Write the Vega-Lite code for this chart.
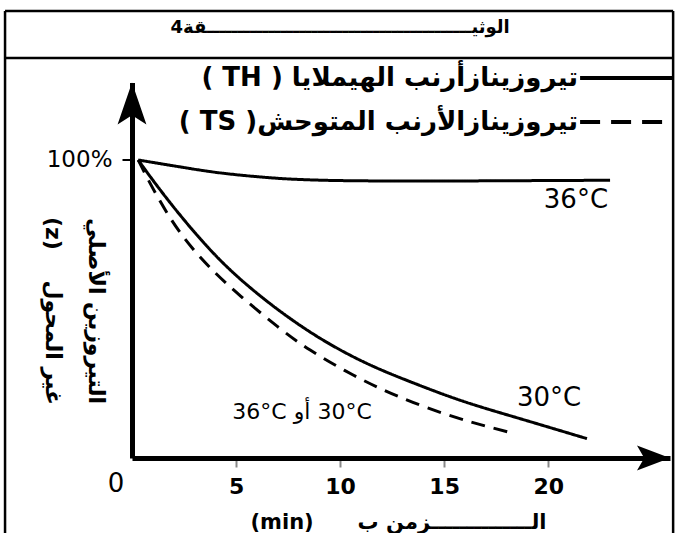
{
  "$schema": "https://vega.github.io/schema/vega-lite/v6.json",
  "autosize": {"type": "none"},
  "width": 538,
  "height": 375.5,
  "padding": {"left": 132, "top": 82.5, "right": 5, "bottom": 75},
  "background": "white",
  "config": {"view": {"stroke": null}, "font": "DejaVu Sans"},
  "datasets": {
    "curves": [
      {"x": 0.3, "y": 100, "curve": "TH36", "enzyme": "TH"},
      {"x": 1.5, "y": 98.6, "curve": "TH36", "enzyme": "TH"},
      {"x": 2.64, "y": 97.3, "curve": "TH36", "enzyme": "TH"},
      {"x": 3.8, "y": 96.0, "curve": "TH36", "enzyme": "TH"},
      {"x": 5.05, "y": 95.0, "curve": "TH36", "enzyme": "TH"},
      {"x": 6.3, "y": 94.2, "curve": "TH36", "enzyme": "TH"},
      {"x": 7.45, "y": 93.6, "curve": "TH36", "enzyme": "TH"},
      {"x": 9.0, "y": 93.2, "curve": "TH36", "enzyme": "TH"},
      {"x": 10.62, "y": 93.0, "curve": "TH36", "enzyme": "TH"},
      {"x": 13.84, "y": 92.9, "curve": "TH36", "enzyme": "TH"},
      {"x": 17.0, "y": 93.0, "curve": "TH36", "enzyme": "TH"},
      {"x": 20.0, "y": 93.1, "curve": "TH36", "enzyme": "TH"},
      {"x": 22.97, "y": 93.2, "curve": "TH36", "enzyme": "TH"},
      {"x": 0.3, "y": 100, "curve": "TH30", "enzyme": "TH"},
      {"x": 1.2, "y": 91.2, "curve": "TH30", "enzyme": "TH"},
      {"x": 2.64, "y": 78.5, "curve": "TH30", "enzyme": "TH"},
      {"x": 4.23, "y": 66.0, "curve": "TH30", "enzyme": "TH"},
      {"x": 5.81, "y": 56.2, "curve": "TH30", "enzyme": "TH"},
      {"x": 7.4, "y": 47.6, "curve": "TH30", "enzyme": "TH"},
      {"x": 9.03, "y": 40.0, "curve": "TH30", "enzyme": "TH"},
      {"x": 10.5, "y": 34.3, "curve": "TH30", "enzyme": "TH"},
      {"x": 11.92, "y": 29.6, "curve": "TH30", "enzyme": "TH"},
      {"x": 13.4, "y": 25.5, "curve": "TH30", "enzyme": "TH"},
      {"x": 15.14, "y": 20.8, "curve": "TH30", "enzyme": "TH"},
      {"x": 16.7, "y": 17.2, "curve": "TH30", "enzyme": "TH"},
      {"x": 18.31, "y": 13.9, "curve": "TH30", "enzyme": "TH"},
      {"x": 19.9, "y": 10.6, "curve": "TH30", "enzyme": "TH"},
      {"x": 21.86, "y": 6.5, "curve": "TH30", "enzyme": "TH"},
      {"x": 0.3, "y": 100, "curve": "TS", "enzyme": "TS"},
      {"x": 0.72, "y": 94.0, "curve": "TS", "enzyme": "TS"},
      {"x": 1.83, "y": 80.0, "curve": "TS", "enzyme": "TS"},
      {"x": 2.93, "y": 69.8, "curve": "TS", "enzyme": "TS"},
      {"x": 4.0, "y": 62.0, "curve": "TS", "enzyme": "TS"},
      {"x": 5.05, "y": 55.2, "curve": "TS", "enzyme": "TS"},
      {"x": 7.11, "y": 43.3, "curve": "TS", "enzyme": "TS"},
      {"x": 8.41, "y": 36.6, "curve": "TS", "enzyme": "TS"},
      {"x": 10.62, "y": 27.6, "curve": "TS", "enzyme": "TS"},
      {"x": 12.73, "y": 20.6, "curve": "TS", "enzyme": "TS"},
      {"x": 15.14, "y": 14.3, "curve": "TS", "enzyme": "TS"},
      {"x": 17.2, "y": 10.3, "curve": "TS", "enzyme": "TS"},
      {"x": 18.26, "y": 8.4, "curve": "TS", "enzyme": "TS"}
    ],
    "frame": [
      {"x": -6.1, "x2": 26.0, "y": 150, "y2": 150},
      {"x": -6.1, "x2": 26.0, "y": 134.2, "y2": 134.2},
      {"x": -6.1, "x2": -6.1, "y": 150, "y2": -28},
      {"x": 26.0, "x2": 26.0, "y": 150, "y2": -28}
    ],
    "legendlines": [
      {"x": 21.53, "x2": 26.0, "y": 127.5, "y2": 127.5, "enzyme": "TH"},
      {"x": 21.53, "x2": 26.0, "y": 112.75, "y2": 112.75, "enzyme": "TS"}
    ],
    "arrows": [
      {"x": 0, "y": 126, "dir": "up"},
      {"x": 25.85, "y": 0, "dir": "right"}
    ],
    "labels": [
      {"role": "title", "text": "الوثيـــــــــــــــــــــــــــــــــــــــــــقة4", "x": 10.0, "y": 144.3},
      {"role": "legend", "text": "( TH ) تيروزينازأرنب الهيملايا", "x": 21.43, "y": 127.5},
      {"role": "legend", "text": "( TS )تيروزينازالأرنب المتوحش", "x": 21.43, "y": 112.75},
      {"role": "temp", "text": "36°C", "x": 21.33, "y": 86.6},
      {"role": "temp", "text": "30°C", "x": 20.04, "y": 20.1},
      {"role": "temp", "text": "0", "x": -0.77, "y": -8.7},
      {"role": "mixed", "text": "36°C أو\u200e 30°C", "x": 8.17, "y": 15.4}
    ]
  },
  "encoding": {
    "x": {
      "field": "x",
      "type": "quantitative",
      "scale": {"domain": [0, 25.85], "nice": false, "zero": false},
      "axis": {
        "values": [5, 10, 15, 20],
        "grid": false,
        "domainColor": "black",
        "domainWidth": 5,
        "tickColor": "#888888",
        "tickWidth": 2,
        "tickSize": 9,
        "labelPadding": 9,
        "labelFontSize": 22,
        "labelFontWeight": "bold",
        "labelColor": "black",
        "labelFlush": false,
        "title": "(min)\u00a0\u00a0\u00a0\u00a0\u00a0 الــــــــــــــزمن ب",
        "titleFontSize": 21,
        "titleFontWeight": "bold",
        "titleColor": "black",
        "titleX": 266,
        "titleY": 64,
        "titleBaseline": "middle",
        "titleAlign": "center"
      }
    },
    "y": {
      "field": "y",
      "type": "quantitative",
      "scale": {"domain": [0, 126], "nice": false, "zero": false},
      "axis": {
        "values": [100],
        "labelExpr": "'100%'",
        "grid": false,
        "domainColor": "black",
        "domainWidth": 5,
        "tickColor": "black",
        "tickWidth": 2,
        "tickSize": 10,
        "labelPadding": 10,
        "labelFontSize": 23,
        "labelColor": "black",
        "labelFlush": false,
        "title": ["التيروزين الأصلي", "(z)\u00a0\u00a0\u00a0 غير المحول"],
        "titleAngle": 90,
        "titleFontSize": 22,
        "titleFontWeight": "bold",
        "titleColor": "black",
        "titleLineHeight": 43,
        "titleX": -37,
        "titleY": 228,
        "titleAlign": "center",
        "titleBaseline": "middle"
      }
    }
  },
  "layer": [
    {
      "data": {"name": "frame"},
      "mark": {"type": "rule", "color": "black", "strokeWidth": 2.5},
      "encoding": {"x2": {"field": "x2"}, "y2": {"field": "y2"}}
    },
    {
      "data": {"name": "curves"},
      "mark": {"type": "line", "interpolate": "basis", "strokeWidth": 3, "color": "black"},
      "encoding": {
        "detail": {"field": "curve"},
        "strokeDash": {
          "field": "enzyme",
          "type": "nominal",
          "scale": {"domain": ["TH", "TS"], "range": [[1, 0], [14, 9]]},
          "legend": null
        }
      }
    },
    {
      "data": {"name": "legendlines"},
      "transform": [{"filter": "datum.enzyme == 'TH'"}],
      "mark": {"type": "rule", "color": "black", "strokeWidth": 4},
      "encoding": {"x2": {"field": "x2"}, "y2": {"field": "y2"}}
    },
    {
      "data": {"name": "legendlines"},
      "transform": [{"filter": "datum.enzyme == 'TS'"}],
      "mark": {"type": "rule", "color": "black", "strokeWidth": 4, "strokeDash": [20, 11]},
      "encoding": {"x2": {"field": "x2"}, "y2": {"field": "y2"}}
    },
    {
      "data": {"name": "arrows"},
      "transform": [{"filter": "datum.dir == 'up'"}],
      "mark": {"type": "point", "filled": true, "color": "black", "opacity": 1, "size": 2756, "shape": "M0,0L0.55,1.6L0,1.25L-0.55,1.6Z"}
    },
    {
      "data": {"name": "arrows"},
      "transform": [{"filter": "datum.dir == 'right'"}],
      "mark": {"type": "point", "filled": true, "color": "black", "opacity": 1, "size": 1702, "shape": "M0,0L-1.6,-0.6L-1.25,0L-1.6,0.6Z"}
    },
    {
      "data": {"name": "labels"},
      "transform": [{"filter": "datum.role == 'title'"}],
      "mark": {"type": "text", "fontSize": 18, "fontWeight": "bold", "color": "black", "align": "center", "baseline": "middle"},
      "encoding": {"text": {"field": "text"}}
    },
    {
      "data": {"name": "labels"},
      "transform": [{"filter": "datum.role == 'legend'"}],
      "mark": {"type": "text", "fontSize": 26, "fontWeight": "bold", "color": "black", "align": "right", "baseline": "middle"},
      "encoding": {"text": {"field": "text"}}
    },
    {
      "data": {"name": "labels"},
      "transform": [{"filter": "datum.role == 'temp'"}],
      "mark": {"type": "text", "fontSize": 26, "color": "black", "align": "center", "baseline": "middle"},
      "encoding": {"text": {"field": "text"}}
    },
    {
      "data": {"name": "labels"},
      "transform": [{"filter": "datum.role == 'mixed'"}],
      "mark": {"type": "text", "fontSize": 22, "color": "black", "align": "center", "baseline": "middle"},
      "encoding": {"text": {"field": "text"}}
    }
  ]
}
